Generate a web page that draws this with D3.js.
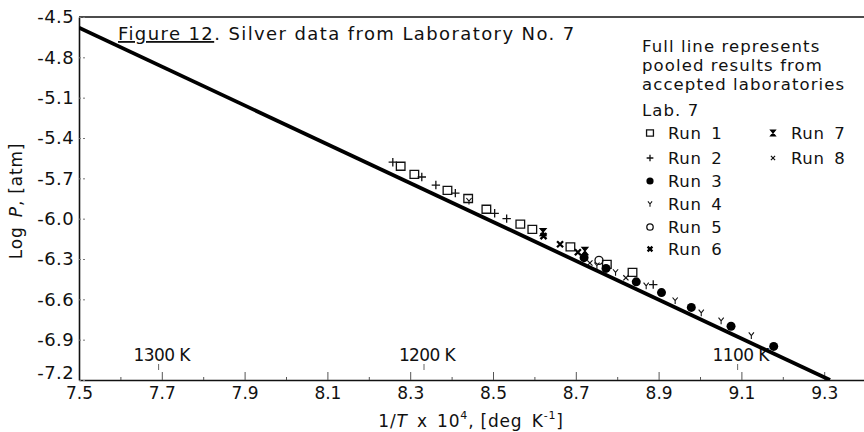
<!DOCTYPE html>
<html>
<head>
<meta charset="utf-8">
<script src="https://cdn.jsdelivr.net/npm/d3@7"></script>
<style>
  html, body { margin: 0; padding: 0; background: #fff; }
  svg { display: block; }
  text { font-family: "DejaVu Sans", sans-serif; fill: #111; }
</style>
</head>
<body>
<svg id="chart" width="864" height="432"></svg>
<script>
// Full line: pooled results from accepted laboratories (end points)
const poolX = [7.5, 9.314];
const poolY = [-4.58, -7.2];

// Laboratory No. 7, individual runs: 1/T x 10^4 and log P
const run1X = [8.277, 8.31, 8.39, 8.44, 8.484, 8.566, 8.595, 8.687, 8.775, 8.837];
const run1Y = [-5.61, -5.67, -5.79, -5.85, -5.93, -6.04, -6.08, -6.21, -6.34, -6.40];
const run2X = [8.258, 8.328, 8.362, 8.409, 8.504, 8.533, 8.887];
const run2Y = [-5.58, -5.69, -5.75, -5.81, -5.96, -6.00, -6.49];
const run3X = [8.72, 8.773, 8.846, 8.907, 8.979, 9.075, 9.178];
const run3Y = [-6.29, -6.37, -6.47, -6.55, -6.66, -6.80, -6.95];
const run4X = [8.442, 8.751, 8.796, 8.87, 8.94, 9.003, 9.051, 9.124];
const run4Y = [-5.87, -6.35, -6.40, -6.50, -6.61, -6.70, -6.76, -6.87];
const run5X = [8.756];
const run5Y = [-6.31];
const run6X = [8.622, 8.662, 8.705];
const run6Y = [-6.13, -6.19, -6.25];
const run7X = [8.621, 8.722];
const run7Y = [-6.10, -6.24];
const run8X = [8.734, 8.821];
const run8Y = [-6.33, -6.44];

const runNames = ["Run 1", "Run 2", "Run 3", "Run 4", "Run 5", "Run 6", "Run 7", "Run 8"];

// Axis ticks and labels
const xTicks = [7.5, 7.7, 7.9, 8.1, 8.3, 8.5, 8.7, 8.9, 9.1, 9.3];
const xTickLabels = ["7.5", "7.7", "7.9", "8.1", "8.3", "8.5", "8.7", "8.9", "9.1", "9.3"];
const xMinorTicks = [7.6, 7.8, 8.0, 8.2, 8.4, 8.6, 8.8, 9.0, 9.2];
const yTicks = [-4.5, -4.8, -5.1, -5.4, -5.7, -6.0, -6.3, -6.6, -6.9, -7.2];
const yTickLabels = ["-4.5", "-4.8", "-5.1", "-5.4", "-5.7", "-6.0", "-6.3", "-6.6", "-6.9", "-7.2"];

// Temperature marks along the bottom
const tempK = [1300, 1200, 1100];
const tempLabels = ["1300 K", "1200 K", "1100 K"];

const noteLines = ["Full line represents", "pooled results from", "accepted laboratories"];

const svg = d3.select("#chart");
svg.append("rect").attr("width", 864).attr("height", 432).attr("fill", "#fff");

const x = d3.scaleLinear().domain([7.5, 9.4]).range([79, 865.6]);
const y = d3.scaleLinear().domain([-4.5, -7.2]).range([17, 380]);

// Marker shapes
const shapes = {
  "Run 1": s => `M${-4.3*s},${-4*s}H${4.3*s}V${4*s}H${-4.3*s}Z`,
  "Run 2": s => `M${-4.2*s},0H${4.2*s}M0,${-4.2*s}V${4.2*s}`,
  "Run 3": s => d3.symbol(d3.symbolCircle, Math.PI * (4.5*s) * (4.5*s))(),
  "Run 4": s => `M${-2.6*s},${-3.2*s}L0,0L${2.6*s},${-3.2*s}M0,0V${3.4*s}`,
  "Run 5": s => d3.symbol(d3.symbolCircle, Math.PI * (4*s) * (4*s))(),
  "Run 6": s => `M${-3*s},${-3*s}L${3*s},${3*s}M${3*s},${-3*s}L${-3*s},${3*s}`,
  "Run 7": s => `M${-3*s},${-3.6*s}H${3*s}L${-3*s},${3.6*s}H${3*s}Z`,
  "Run 8": s => `M${-2.6*s},${-2.6*s}L${2.6*s},${2.6*s}M${2.6*s},${-2.6*s}L${-2.6*s},${2.6*s}`
};
const styles = {
  "Run 1": {fill: "none", stroke: "#111", sw: 1.3},
  "Run 2": {fill: "none", stroke: "#111", sw: 1.3},
  "Run 3": {fill: "#000", stroke: "none", sw: 0},
  "Run 4": {fill: "none", stroke: "#111", sw: 1.1},
  "Run 5": {fill: "none", stroke: "#111", sw: 1.3},
  "Run 6": {fill: "none", stroke: "#000", sw: 2.3},
  "Run 7": {fill: "#000", stroke: "#000", sw: 1.2},
  "Run 8": {fill: "none", stroke: "#111", sw: 1.2}
};
function drawMarker(g, name, s) {
  const st = styles[name];
  return g.append("path")
    .attr("d", shapes[name](s))
    .attr("fill", st.fill)
    .attr("stroke", st.stroke)
    .attr("stroke-width", st.sw);
}

// Frame: top border
svg.append("line")
  .attr("x1", x(7.5)).attr("x2", 864)
  .attr("y1", y(-4.5)).attr("y2", y(-4.5))
  .attr("stroke", "#111").attr("stroke-width", 1.5);

// Bottom axis (ticks point up into the plot)
const xAxis = d3.axisBottom(x)
  .tickValues(xTicks)
  .tickFormat((d, i) => xTickLabels[i])
  .tickSizeInner(-8).tickSizeOuter(0).tickPadding(7);
const gx = svg.append("g").attr("transform", `translate(0,${y(-7.2)})`).call(xAxis);
gx.select(".domain").attr("stroke", "#111").attr("stroke-width", 1.6);
gx.selectAll(".tick line").attr("stroke", "#555").attr("stroke-width", 1);
gx.selectAll(".tick text").attr("font-size", 17).attr("font-family", "DejaVu Sans").attr("fill", "#111");

const xMinor = d3.axisBottom(x).tickValues(xMinorTicks).tickFormat("").tickSizeInner(-3).tickSizeOuter(0);
const gxm = svg.append("g").attr("transform", `translate(0,${y(-7.2)})`).call(xMinor);
gxm.select(".domain").remove();
gxm.selectAll(".tick line").attr("stroke", "#555").attr("stroke-width", 1);

// Left axis (ticks point right into the plot)
const yAxis = d3.axisLeft(y)
  .tickValues(yTicks)
  .tickFormat((d, i) => yTickLabels[i])
  .tickSizeInner(-8).tickSizeOuter(0).tickPadding(5);
const gy = svg.append("g").attr("transform", `translate(${x(7.5)},0)`).call(yAxis);
gy.select(".domain").attr("stroke", "#111").attr("stroke-width", 1.6);
gy.selectAll(".tick line").attr("stroke", "#777").attr("stroke-width", 1).attr("stroke-dasharray", "2,2");
gy.selectAll(".tick text").attr("font-size", 18).attr("letter-spacing", 0.4)
  .attr("font-family", "DejaVu Sans").attr("fill", "#111")
  .attr("dy", d => d === -7.2 ? "-0.08em" : "0.32em");

// Temperature marks
tempK.forEach((t, i) => {
  const tx = x(1e4 / t);
  svg.append("line").attr("x1", tx).attr("x2", tx).attr("y1", 364).attr("y2", 370)
    .attr("stroke", "#666").attr("stroke-width", 1);
  svg.append("text").attr("x", tx + 3).attr("y", 361).attr("text-anchor", "middle")
    .attr("font-size", 17).attr("letter-spacing", -0.6).text(tempLabels[i]);
});

// Pooled full line
svg.append("defs").append("clipPath").attr("id", "plotClip")
  .append("rect").attr("x", x(7.5)).attr("y", y(-4.5))
  .attr("width", 864 - x(7.5)).attr("height", y(-7.2) - y(-4.5));
const line = d3.line().x(d => x(d[0])).y(d => y(d[1]));
svg.append("path")
  .datum(poolX.map((v, i) => [v, poolY[i]]))
  .attr("d", line)
  .attr("fill", "none").attr("stroke", "#000").attr("stroke-width", 3.8)
  .attr("clip-path", "url(#plotClip)");

// Data points
const runData = [
  [run1X, run1Y], [run2X, run2Y], [run3X, run3Y], [run4X, run4Y],
  [run5X, run5Y], [run6X, run6Y], [run7X, run7Y], [run8X, run8Y]
];
const gp = svg.append("g");
runData.forEach(([xs, ys], k) => {
  const name = runNames[k];
  xs.forEach((v, i) => {
    drawMarker(gp, name, 1).attr("transform", `translate(${x(v)},${y(ys[i])})`);
  });
});

// Title
const title = svg.append("text").attr("x", 118).attr("y", 40).attr("font-size", 18).attr("letter-spacing", 1.4);
title.append("tspan").attr("text-decoration", "underline").text("Figure 12");
title.append("tspan").text(". Silver data from Laboratory No. 7");

// Note and legend
noteLines.forEach((t, i) => {
  svg.append("text").attr("x", 642).attr("y", [52, 71, 90][i])
    .attr("font-size", 16.5).attr("letter-spacing", 1.1).text(t);
});
svg.append("text").attr("x", 642).attr("y", 116).attr("font-size", 16.5).attr("letter-spacing", 1.1).text("Lab. 7");

const legendPos = [
  [650, 133], [650, 158], [650, 181], [650, 204], [650, 227], [650, 249],
  [773, 133], [773, 158]
];
runNames.forEach((name, k) => {
  const [lx, ly] = legendPos[k];
  drawMarker(svg, name, 0.8).attr("transform", `translate(${lx},${ly})`);
  svg.append("text").attr("x", lx + 18).attr("y", ly + 6)
    .attr("font-size", 16.5).attr("letter-spacing", 0.6).text(name.replace(" ", "\u2009 "));
});

// Axis titles
const yt = svg.append("text").attr("transform", "translate(22,201) rotate(-90)")
  .attr("text-anchor", "middle").attr("font-size", 17).attr("letter-spacing", 0.8);
yt.append("tspan").text("Log\u2002");
yt.append("tspan").attr("font-style", "italic").text("P");
yt.append("tspan").text(", [atm]");

const xt = svg.append("text").attr("x", 471).attr("y", 427)
  .attr("text-anchor", "middle").attr("font-size", 17).attr("letter-spacing", 0.8);
xt.append("tspan").text("1/");
xt.append("tspan").attr("font-style", "italic").text("T");
xt.append("tspan").text("\u2002x\u200210");
xt.append("tspan").attr("font-size", 11).attr("dy", -8).text("4");
xt.append("tspan").attr("dy", 8).text(", [deg\u2002K");
xt.append("tspan").attr("font-size", 11).attr("dy", -8).text("-1");
xt.append("tspan").attr("dy", 8).text("]");
</script>
</body>
</html>
